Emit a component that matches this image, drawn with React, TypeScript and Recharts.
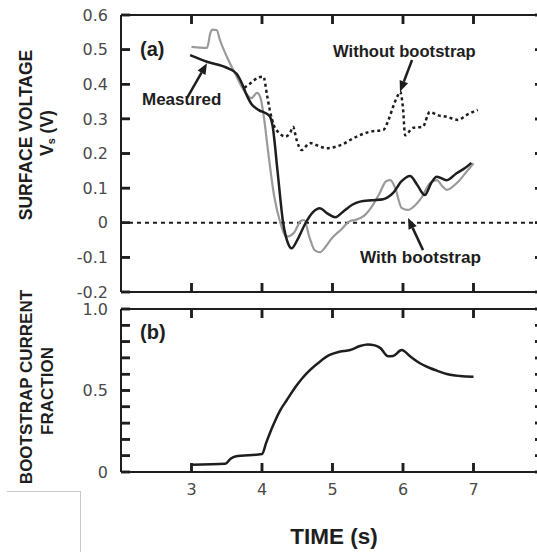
import React from "react";
import { LineChart, Line, XAxis, YAxis, ReferenceLine } from "recharts";

// ---------- tick values / labels ----------
const timeDomain = [2, 8];
const timeTicks = [3, 4, 5, 6, 7];
const timeTickLabels = ["3", "4", "5", "6", "7"];
const voltageDomain = [-0.2, 0.6];
const voltageTicks = [-0.2, -0.1, 0, 0.1, 0.2, 0.3, 0.4, 0.5, 0.6];
const voltageTickLabels = ["-0.2", "-0.1", "0", "0.1", "0.2", "0.3", "0.4", "0.5", "0.6"];
const fractionDomain = [0, 1];
const fractionTicks = [0, 0.1, 0.2, 0.3, 0.4, 0.5, 0.6, 0.7, 0.8, 0.9, 1.0];
const fractionTickLabels = ["0", "", "", "", "", "0.5", "", "", "", "", "1.0"];

// ---------- (a) surface voltage series ----------
const measured = [
  { t: 3.0, v: 0.508 }, { t: 3.22, v: 0.505 }, { t: 3.27, v: 0.55 }, { t: 3.3, v: 0.558 },
  { t: 3.36, v: 0.556 }, { t: 3.4, v: 0.53 }, { t: 3.5, v: 0.48 }, { t: 3.62, v: 0.43 },
  { t: 3.72, v: 0.39 }, { t: 3.85, v: 0.36 }, { t: 3.93, v: 0.375 }, { t: 3.98, v: 0.36 },
  { t: 4.03, v: 0.3 }, { t: 4.09, v: 0.2 }, { t: 4.17, v: 0.08 }, { t: 4.26, v: 0.0 },
  { t: 4.35, v: -0.04 }, { t: 4.45, v: -0.03 }, { t: 4.55, v: 0.005 }, { t: 4.6, v: 0.008 },
  { t: 4.67, v: -0.04 }, { t: 4.75, v: -0.08 }, { t: 4.82, v: -0.085 }, { t: 4.9, v: -0.07 },
  { t: 4.99, v: -0.045 }, { t: 5.12, v: -0.02 }, { t: 5.25, v: 0.005 }, { t: 5.32, v: 0.008 },
  { t: 5.46, v: 0.022 }, { t: 5.57, v: 0.05 }, { t: 5.67, v: 0.086 }, { t: 5.76, v: 0.12 },
  { t: 5.82, v: 0.123 }, { t: 5.89, v: 0.1 }, { t: 5.98, v: 0.043 }, { t: 6.07, v: 0.037 },
  { t: 6.17, v: 0.05 }, { t: 6.27, v: 0.075 }, { t: 6.38, v: 0.114 }, { t: 6.48, v: 0.123 },
  { t: 6.56, v: 0.105 }, { t: 6.62, v: 0.095 }, { t: 6.76, v: 0.114 }, { t: 6.9, v: 0.147 },
  { t: 7.0, v: 0.172 },
];

const withBootstrap = [
  { t: 2.98, v: 0.484 }, { t: 3.22, v: 0.465 }, { t: 3.52, v: 0.446 }, { t: 3.64, v: 0.43 },
  { t: 3.72, v: 0.4 }, { t: 3.78, v: 0.37 }, { t: 3.85, v: 0.343 }, { t: 3.95, v: 0.326 },
  { t: 4.1, v: 0.31 }, { t: 4.15, v: 0.28 }, { t: 4.22, v: 0.15 }, { t: 4.3, v: 0.0 },
  { t: 4.37, v: -0.06 }, { t: 4.42, v: -0.074 }, { t: 4.5, v: -0.05 }, { t: 4.62, v: 0.0 },
  { t: 4.72, v: 0.03 }, { t: 4.82, v: 0.042 }, { t: 4.92, v: 0.028 }, { t: 5.04, v: 0.016 },
  { t: 5.15, v: 0.032 }, { t: 5.28, v: 0.052 }, { t: 5.39, v: 0.061 }, { t: 5.55, v: 0.065 },
  { t: 5.72, v: 0.068 }, { t: 5.86, v: 0.086 }, { t: 5.98, v: 0.12 }, { t: 6.1, v: 0.135 },
  { t: 6.2, v: 0.11 }, { t: 6.31, v: 0.08 }, { t: 6.4, v: 0.115 }, { t: 6.48, v: 0.133 },
  { t: 6.62, v: 0.123 }, { t: 6.76, v: 0.143 }, { t: 6.88, v: 0.158 }, { t: 6.97, v: 0.173 },
];

const withoutBootstrap = [
  { t: 3.75, v: 0.39 }, { t: 3.85, v: 0.405 }, { t: 3.95, v: 0.42 }, { t: 4.02, v: 0.422 },
  { t: 4.07, v: 0.37 }, { t: 4.11, v: 0.326 }, { t: 4.17, v: 0.28 }, { t: 4.23, v: 0.262 },
  { t: 4.33, v: 0.249 }, { t: 4.4, v: 0.26 }, { t: 4.44, v: 0.277 }, { t: 4.49, v: 0.24 },
  { t: 4.56, v: 0.21 }, { t: 4.68, v: 0.23 }, { t: 4.8, v: 0.222 }, { t: 4.92, v: 0.215 },
  { t: 5.05, v: 0.22 }, { t: 5.15, v: 0.227 }, { t: 5.25, v: 0.239 }, { t: 5.39, v: 0.253 },
  { t: 5.53, v: 0.263 }, { t: 5.72, v: 0.268 }, { t: 5.8, v: 0.3 }, { t: 5.86, v: 0.335 },
  { t: 5.92, v: 0.365 }, { t: 5.96, v: 0.378 }, { t: 6.0, v: 0.33 }, { t: 6.03, v: 0.253 },
  { t: 6.14, v: 0.274 }, { t: 6.28, v: 0.277 }, { t: 6.38, v: 0.32 }, { t: 6.5, v: 0.31 },
  { t: 6.62, v: 0.306 }, { t: 6.78, v: 0.297 }, { t: 6.9, v: 0.311 }, { t: 7.06, v: 0.326 },
];

// ---------- (b) bootstrap current fraction ----------
const bootstrapFraction = [
  { t: 3.0, f: 0.045 }, { t: 3.48, f: 0.05 }, { t: 3.55, f: 0.08 }, { t: 3.62, f: 0.095 },
  { t: 4.0, f: 0.11 }, { t: 4.06, f: 0.18 }, { t: 4.14, f: 0.268 }, { t: 4.26, f: 0.38 },
  { t: 4.35, f: 0.44 }, { t: 4.49, f: 0.53 }, { t: 4.58, f: 0.58 }, { t: 4.82, f: 0.677 },
  { t: 4.96, f: 0.718 }, { t: 5.1, f: 0.738 }, { t: 5.25, f: 0.748 }, { t: 5.39, f: 0.773 },
  { t: 5.5, f: 0.782 }, { t: 5.6, f: 0.777 }, { t: 5.68, f: 0.76 }, { t: 5.79, f: 0.71 },
  { t: 5.86, f: 0.712 }, { t: 5.98, f: 0.748 }, { t: 6.1, f: 0.71 }, { t: 6.24, f: 0.667 },
  { t: 6.38, f: 0.638 }, { t: 6.48, f: 0.622 }, { t: 6.62, f: 0.601 }, { t: 6.81, f: 0.589 },
  { t: 7.0, f: 0.585 },
];

// ---------- annotation arrows (data coordinates: tail -> head) ----------
const measuredArrow = [{ x: 2.936, y: 0.36 }, { x: 3.22, y: 0.461 }];
const withoutArrow = [{ x: 6.128, y: 0.47 }, { x: 5.957, y: 0.378 }];
const withArrow = [{ x: 6.284, y: -0.079 }, { x: 6.071, y: 0.014 }];

// ---------- styling ----------
const INK = "#1e1e1e";
const TICK_LEN = 9;
const TICK_W = 2.5;
const tickTextStyle = {
  fontFamily: "'DejaVu Sans', sans-serif",
  fontSize: 16,
  fill: "#4a4a4a",
};
const boldFont = "'Liberation Sans', Arial, Helvetica, sans-serif";
const axisLineStyle = { stroke: INK, strokeWidth: 2 };
const tickLineStyle = { stroke: INK, strokeWidth: TICK_W };

function labelFor(value: number, ticks: number[], labels: string[]) {
  const i = ticks.findIndex((v) => Math.abs(v - value) < 1e-9);
  return i >= 0 ? labels[i] : "";
}
const voltageFmt = (v: number) => labelFor(v, voltageTicks, voltageTickLabels);
const fractionFmt = (v: number) => labelFor(v, fractionTicks, fractionTickLabels);
const timeFmt = (v: number) => labelFor(v, timeTicks, timeTickLabels);

const NoLabel = () => <g />;

// inward tick marks at both ends of a full-span segment
const vTickShape = (p: any) => {
  const top = Math.min(p.y1, p.y2);
  const bot = Math.max(p.y1, p.y2);
  return (
    <g>
      <line x1={p.x1} x2={p.x1} y1={top} y2={top + TICK_LEN} stroke={INK} strokeWidth={TICK_W} />
      <line x1={p.x1} x2={p.x1} y1={bot} y2={bot - TICK_LEN} stroke={INK} strokeWidth={TICK_W} />
    </g>
  );
};
const hTickShape = (p: any) => {
  const l = Math.min(p.x1, p.x2);
  const r = Math.max(p.x1, p.x2);
  return (
    <g>
      <line x1={l} x2={l + TICK_LEN} y1={p.y1} y2={p.y1} stroke={INK} strokeWidth={TICK_W} />
      <line x1={r} x2={r - TICK_LEN} y1={p.y1} y2={p.y1} stroke={INK} strokeWidth={TICK_W} />
    </g>
  );
};

const arrowShape = (props: any) => {
  const { x1, y1, x2, y2 } = props;
  const ang = Math.atan2(y2 - y1, x2 - x1);
  const L = 11;
  const W = 4.5;
  const bx = x2 - L * Math.cos(ang);
  const by = y2 - L * Math.sin(ang);
  const px = -Math.sin(ang) * W;
  const py = Math.cos(ang) * W;
  return (
    <g>
      <line x1={x1} y1={y1} x2={bx} y2={by} stroke={INK} strokeWidth={2.5} />
      <polygon
        points={`${x2},${y2} ${bx + px},${by + py} ${bx - px},${by - py}`}
        fill={INK}
      />
    </g>
  );
};

function tickMarks(prefix: string, yDomain: number[], yTicks: number[]) {
  const out: any[] = [];
  timeTicks.forEach((t) =>
    out.push(
      <ReferenceLine
        key={`${prefix}x${t}`}
        xAxisId="b"
        yAxisId="l"
        ifOverflow="visible"
        segment={[{ x: t, y: yDomain[0] }, { x: t, y: yDomain[1] }]}
        shape={vTickShape}
      />
    )
  );
  yTicks.forEach((v) =>
    out.push(
      <ReferenceLine
        key={`${prefix}y${v}`}
        xAxisId="b"
        yAxisId="l"
        ifOverflow="visible"
        segment={[{ x: timeDomain[0], y: v }, { x: timeDomain[1], y: v }]}
        shape={hTickShape}
      />
    )
  );
  return out;
}

function Txt({ x, y, children, size = 17, center = false, rotate = false }: any) {
  const transform = rotate
    ? "translate(-50%, -50%) rotate(-90deg)"
    : center
    ? "translate(-50%, -50%)"
    : "translate(0, -50%)";
  return (
    <div
      style={{
        position: "absolute",
        left: x,
        top: y,
        transform,
        whiteSpace: "nowrap",
        fontFamily: boldFont,
        fontWeight: 700,
        fontSize: size,
        lineHeight: 1,
        color: INK,
      }}
    >
      {children}
    </div>
  );
}

export default function App() {
  const commonX = {
    type: "number" as const,
    dataKey: "t",
    domain: timeDomain,
    ticks: timeTicks,
    interval: 0 as const,
    axisLine: axisLineStyle,
    tickLine: tickLineStyle,
    tickSize: -TICK_LEN,
    allowDataOverflow: true,
  };
  const commonY = {
    type: "number" as const,
    interval: 0 as const,
    axisLine: axisLineStyle,
    tickLine: tickLineStyle,
    tickSize: -TICK_LEN,
    allowDataOverflow: true,
  };
  return (
    <div
      style={{
        position: "fixed",
        left: 0,
        top: 0,
        width: 537,
        height: 552,
        overflow: "hidden",
        background: "#fff",
      }}
    >
      {/* (a) surface voltage: plot area x 121..544, y 15..292 */}
      <div style={{ position: "absolute", left: 0, top: 0, width: 560, height: 300 }}>
        <LineChart width={560} height={300} margin={{ top: 0, right: 0, bottom: 0, left: 0 }}>
          <XAxis xAxisId="b" {...commonX} height={8} tick={NoLabel} />
          <XAxis xAxisId="top" orientation="top" {...commonX} height={15} tick={NoLabel} />
          <YAxis
            yAxisId="l"
            {...commonY}
            domain={voltageDomain}
            ticks={voltageTicks}
            width={121}
            tickMargin={22}
            tick={tickTextStyle}
            tickFormatter={voltageFmt}
          />
          <YAxis
            yAxisId="r"
            orientation="right"
            {...commonY}
            domain={voltageDomain}
            ticks={voltageTicks}
            width={16}
            tick={NoLabel}
          />
          {tickMarks("a", voltageDomain, voltageTicks)}
          <ReferenceLine
            xAxisId="b"
            yAxisId="l"
            y={0}
            stroke={INK}
            strokeWidth={2}
            strokeDasharray="4 4"
          />
          <Line
            xAxisId="b"
            yAxisId="l"
            data={measured}
            dataKey="v"
            type="monotone"
            stroke="#9a9a9a"
            strokeWidth={2.2}
            dot={false}
            isAnimationActive={false}
          />
          <Line
            xAxisId="b"
            yAxisId="l"
            data={withoutBootstrap}
            dataKey="v"
            type="monotone"
            stroke={INK}
            strokeWidth={2.5}
            strokeDasharray="3 3"
            dot={false}
            isAnimationActive={false}
          />
          <Line
            xAxisId="b"
            yAxisId="l"
            data={withBootstrap}
            dataKey="v"
            type="monotone"
            stroke={INK}
            strokeWidth={2.5}
            dot={false}
            isAnimationActive={false}
          />
          <ReferenceLine xAxisId="b" yAxisId="l" segment={measuredArrow} shape={arrowShape} />
          <ReferenceLine xAxisId="b" yAxisId="l" segment={withoutArrow} shape={arrowShape} />
          <ReferenceLine xAxisId="b" yAxisId="l" segment={withArrow} shape={arrowShape} />
        </LineChart>
      </div>

      {/* (b) bootstrap current fraction: plot area x 121..544, y 309..472 */}
      <div style={{ position: "absolute", left: 0, top: 300, width: 560, height: 252 }}>
        <LineChart width={560} height={252} margin={{ top: 0, right: 0, bottom: 60, left: 0 }}>
          <XAxis
            xAxisId="b"
            {...commonX}
            height={20}
            tickMargin={21}
            tick={tickTextStyle}
            tickFormatter={timeFmt}
          />
          <XAxis xAxisId="top" orientation="top" {...commonX} height={9} tick={NoLabel} />
          <YAxis
            yAxisId="l"
            {...commonY}
            domain={fractionDomain}
            ticks={fractionTicks}
            width={121}
            tickMargin={22}
            tick={tickTextStyle}
            tickFormatter={fractionFmt}
          />
          <YAxis
            yAxisId="r"
            orientation="right"
            {...commonY}
            domain={fractionDomain}
            ticks={fractionTicks}
            width={16}
            tick={NoLabel}
          />
          {tickMarks("b", fractionDomain, fractionTicks)}
          <Line
            xAxisId="b"
            yAxisId="l"
            data={bootstrapFraction}
            dataKey="f"
            type="monotone"
            stroke={INK}
            strokeWidth={2.5}
            dot={false}
            isAnimationActive={false}
          />
        </LineChart>
      </div>

      {/* axis titles */}
      <Txt x={27} y={135} rotate size={17.5}>SURFACE VOLTAGE</Txt>
      <Txt x={48} y={133} rotate size={17.5}>
        V<sub style={{ fontSize: "0.62em", verticalAlign: "-0.25em" }}>s</sub> (V)
      </Txt>
      <Txt x={26} y={387} rotate size={17}>BOOTSTRAP CURRENT</Txt>
      <Txt x={47} y={391} rotate size={17}>FRACTION</Txt>
      <Txt x={334} y={537} center size={22.5}>TIME (s)</Txt>

      {/* panel tags and annotations */}
      <Txt x={140} y={49} size={20}>(a)</Txt>
      <Txt x={140} y={332} size={20}>(b)</Txt>
      <Txt x={142} y={99} size={17}>Measured</Txt>
      <Txt x={333} y={52} size={16.6}>Without bootstrap</Txt>
      <Txt x={360} y={258} size={17.2}>With bootstrap</Txt>

      {/* faint frame fragment at lower left of the scan */}
      <div
        style={{
          position: "absolute",
          left: 7,
          top: 491,
          width: 73,
          height: 70,
          borderTop: "1px solid #c8c8c8",
          borderRight: "1px solid #c8c8c8",
        }}
      />
    </div>
  );
}
